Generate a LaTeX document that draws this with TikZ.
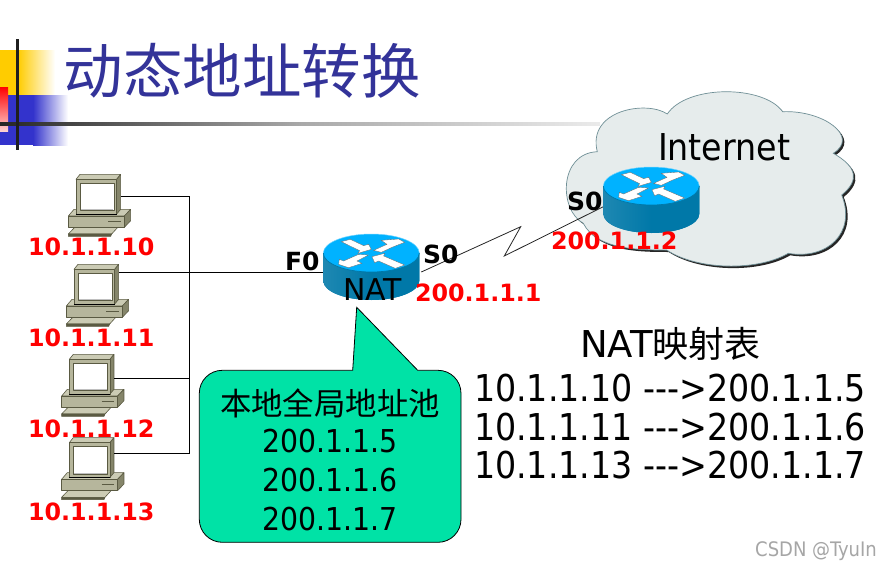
\documentclass[tikz,border=0pt]{standalone}
\usepackage{fontspec}
\setmainfont{DejaVu Sans}
\newfontfamily\cond{DejaVu Sans Condensed}
\newfontfamily\cjk{Noto Sans CJK SC}
\definecolor{titleblue}{HTML}{333399}
\definecolor{decoY}{HTML}{FFCC00}
\definecolor{decoB}{HTML}{3333CC}
\definecolor{pcface}{HTML}{B6B69C}
\definecolor{pcdark}{HTML}{5A5A42}
\definecolor{pcside}{HTML}{85856A}
\definecolor{pctop}{HTML}{CBCBB4}
\definecolor{rtop}{HTML}{00B2FF}
\definecolor{rside}{HTML}{0078A8}
\definecolor{rsidel}{HTML}{1E88B2}
\definecolor{cloudf}{HTML}{E6ECEC}
\definecolor{cloudl}{HTML}{6F8F96}
\definecolor{callout}{HTML}{00E2A6}
\tikzset{
  x=1pt,y=-1pt,
  wire/.style={draw=black,line width=1pt},
  serial/.style={draw=black!85,line width=.8pt,line join=miter},
  anchorbox/.style={inner sep=0pt,outer sep=0pt,minimum height=10pt},
  lab/.style={inner sep=0pt,outer sep=0pt,anchor=base west,text=red,font=\bfseries\fontsize{23.8}{24}\selectfont},
  blab/.style={inner sep=0pt,outer sep=0pt,anchor=base west,text=black,font=\bfseries\fontsize{25}{25}\selectfont},
  big/.style={inner sep=0pt,outer sep=0pt,anchor=base west,text=black,font=\cond\fontsize{37}{37}\selectfont},
  pool/.style={inner sep=0pt,outer sep=0pt,anchor=base,text=black,font=\cond\fontsize{31.5}{32}\selectfont},
  pcpic/.pic={
    \begin{scope}[x=.33333pt,y=-.33333pt,line width=.6pt,draw=pcdark,line join=round]
      % keyboard
      \filldraw[fill=pctop] (205,192)--(228,168)--(357,168)--(335,192)--cycle;
      \filldraw[fill=pcdark] (205,192)--(335,192)--(332,199)--(205,199)--cycle;
      % base
      \filldraw[fill=pctop] (205,138)--(222,118)--(392,118)--(373,138)--cycle;
      \filldraw[fill=pcside] (373,138)--(392,118)--(392,152)--(373,172)--cycle;
      \filldraw[fill=pcface] (205,138) rectangle (373,172);
      \draw[line width=.9pt] (325,153)--(362,153);
      % monitor
      \filldraw[fill=pctop] (228,28)--(240,13)--(362,13)--(350,28)--cycle;
      \filldraw[fill=pcside] (350,28)--(362,13)--(362,118)--(350,132)--cycle;
      \filldraw[fill=pcface] (228,28) rectangle (350,132);
      \draw[black,line width=1pt] (228,133)--(350,133);
      \filldraw[fill=white,line width=.8pt] (240,40) rectangle (342,122);
      \draw[black!25,line width=.8pt] (243,119)--(340,119);
    \end{scope}
  },
  routerpic/.pic={
    \fill[rside,left color=rsidel,right color=rside,middle color=rside]
      (-48,0)--(-48,28) .. controls (-48,38.5) and (-26.5,47) .. (0,47)
      .. controls (26.5,47) and (48,38.5) .. (48,28)--(48,0)--cycle;
    \fill[rtop] (0,0) ellipse [x radius=48pt,y radius=19pt];
    \draw[rtop!55!white,line width=.5pt] (-48,0) .. controls (-48,-10.5) and (-26.5,-19) .. (0,-19)
      .. controls (26.5,-19) and (48,-10.5) .. (48,0);
    \draw[rside,line width=.7pt] (-48,0) .. controls (-48,10.5) and (-26.5,19) .. (0,19)
      .. controls (26.5,19) and (48,10.5) .. (48,0);
    \begin{scope}[x=.33333pt,y=-.33333pt,shift={(-168,-84)},fill=white,draw=black!60,line width=.3pt]
      \filldraw (78,50)--(105,43)--(145,62)--(160,58)--(168,73)--(128,85)--(133,77)--cycle;
      \filldraw (175,76)--(215,58)--(198,46)--(250,42)--(268,52)--(232,66)--(198,82)--cycle;
      \filldraw (160,90)--(125,108)--(140,115)--(100,128)--(70,118)--(72,103)--(85,108)--(130,88)--cycle;
      \filldraw (170,95)--(208,85)--(205,93)--(268,120)--(240,130)--(190,108)--(178,113)--cycle;
    \end{scope}
  }
}
\begin{document}
\begin{tikzpicture}[x=1pt,y=-1pt]
\useasboundingbox (0,0) rectangle (892,570);
\fill[white] (0,0) rectangle (892,570);
% slide decoration
\fill[decoY] (0,50) rectangle (18,95);
\shade[left color=decoY,right color=white] (18,50) rectangle (55,95);
\fill[decoB] (0,95) rectangle (33,145);
\shade[left color=decoB,right color=white] (33,95) rectangle (68,145);
\shade[top color=red,bottom color=red!18] (0,87) rectangle (8,131);
\shade[left color=black!85,right color=black!34] (0,122) rectangle (300,125);
\shade[left color=black!34,right color=black!8] (300,122) rectangle (600,125);
\fill[black!88] (16,39) rectangle (19,150);
\node[inner sep=0pt,anchor=west,text=titleblue,font=\cjk\fontsize{59.5}{60}\selectfont] (title) at (63.5,71) {动态地址转换};
% cloud
\def\cloudpath{(667.3,114) .. controls (686.7,84.7) and (763.3,84.7) .. (782.7,111.7)
  .. controls (823.3,110) and (860,136.7) .. (833.3,153.3)
  .. controls (856.7,166.7) and (860,180) .. (841.7,195)
  .. controls (856.7,233.3) and (826.7,260) .. (788.3,253.3)
  .. controls (756.7,271.7) and (696.7,270) .. (666.7,250)
  .. controls (640,250) and (596.7,250) .. (583.3,223.3)
  .. controls (558.7,210) and (558.7,153.3) .. (597.3,151.7)
  .. controls (586.7,110) and (646.7,100) .. (667.3,114) -- cycle}
\begin{scope}[shift={(2,2)}]
  \fill[black!85] \cloudpath;
\end{scope}
\filldraw[fill=cloudf,draw=cloudl,line width=.7pt] \cloudpath;
% hosts
\pic at (0,170) {pcpic};
\pic at (-2,260) {pcpic};
\pic at (-6.7,350) {pcpic};
\pic at (-6.7,433.3) {pcpic};
\node[anchorbox,minimum width=46pt] (pc1) at (98,196) {};
\node[anchorbox,minimum width=46pt] (pc2) at (96,272) {};
\node[anchorbox,minimum width=46pt] (pc3) at (91,378) {};
\node[anchorbox,minimum width=46pt] (pc4) at (91,453) {};
\coordinate (busT) at (189.5,196);
\coordinate (busM) at (189.5,378);
\coordinate (busB) at (189.5,453);
% routers
\node[anchorbox,minimum width=96pt] (r1) at (371.3,272) {};
\node[anchorbox,minimum width=96pt] (r2) at (651.3,206.7) {};
\coordinate (z1) at (520.7,226.7);
\coordinate (z2) at (504.3,256);
\draw[wire] (pc1.east)--(busT)--(busB)--(pc4.east);
\draw[wire] (pc3.east)--(busM);
\draw[wire] (pc2.east)--(r1.west);
\draw[serial] ([xshift=2pt]r1.east)--(z1)--(z2)--(r2.west);
\pic at (371.3,253) {routerpic};
\pic at (651.3,186) {routerpic};
% labels
\node[big] (inet) at (658,160) {Internet};
\node[inner sep=0pt,anchor=base west,font=\fontsize{30}{30}\selectfont] (natl) at (343,300) {NAT};
\node[lab] (l1) at (28,255) {10.1.1.10};
\node[lab] (l2) at (28,346) {10.1.1.11};
\node[lab] (l3) at (28,437.3) {10.1.1.12};
\node[lab] (l4) at (28,520) {10.1.1.13};
\node[blab] (f0) at (285,270) {F0};
\node[blab] (s0a) at (423,263) {S0};
\node[blab] (s0b) at (567,210.7) {S0};
\node[lab] (ip1) at (415,301.7) {200.1.1.1};
\node[lab] (ip2) at (551,249) {200.1.1.2};
% callout
\filldraw[fill=callout,draw=black,line width=.8pt,rounded corners=0pt]
  (352.7,370.3)--(356.7,307.3)--(417.7,370.3)--(438,370.3)
  .. controls (450.7,370.3) and (461,380.6) .. (461,393.3)--(461,519.3)
  .. controls (461,532) and (450.7,542.3) .. (438,542.3)--(222.3,542.3)
  .. controls (209.6,542.3) and (199.3,532) .. (199.3,519.3)--(199.3,393.3)
  .. controls (199.3,380.6) and (209.6,370.3) .. (222.3,370.3)--cycle;
\node[inner sep=0pt,anchor=center,font=\cjk\fontsize{31.4}{31.4}\selectfont] (pt) at (330,403) {本地全局地址池};
\node[pool] (p1) at (330,452.7) {200.1.1.5};
\node[pool] (p2) at (330,491) {200.1.1.6};
\node[pool] (p3) at (330,530) {200.1.1.7};
% table
\node[inner sep=0pt,anchor=base west,font=\fontsize{37}{37}\selectfont] (tt) at (580,357.7) {NAT{\cjk\fontsize{36}{36}\selectfont 映射表}};
\node[big] (m1) at (474,401.7) {10.1.1.10 {-}{-}{-}>200.1.1.5};
\node[big] (m2) at (474,440) {10.1.1.11 {-}{-}{-}>200.1.1.6};
\node[big] (m3) at (474,478.3) {10.1.1.13 {-}{-}{-}>200.1.1.7};
\node[inner sep=0pt,anchor=base west,text=black!35,font=\cond\fontsize{20}{20}\selectfont] (wm) at (755,556) {CSDN @TyuIn};
\end{tikzpicture}
\end{document}
